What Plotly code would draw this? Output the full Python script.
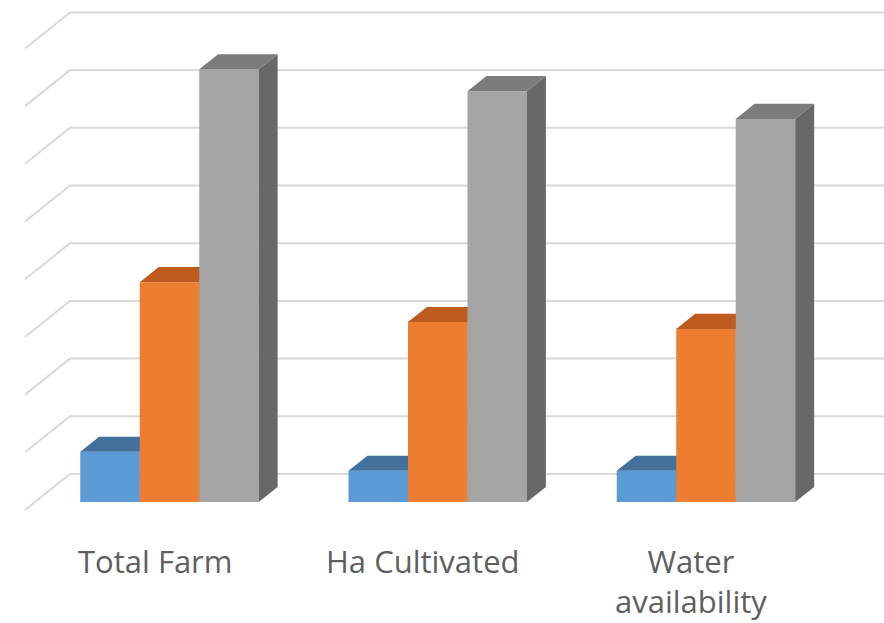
import plotly.graph_objects as go

# Data
categories = ["Total Farm", "Ha Cultivated", "Water<br>availability"]
series_a = [8.7, 5.4, 5.4]
series_b = [38.1, 31.2, 30.0]
series_c = [75.0, 71.2, 66.4]
grid_values = [0, 10, 20, 30, 40, 50, 60, 70, 80]

series = [series_a, series_b, series_c]
front_colors = ["#5B9BD5", "#ED7D31", "#A5A5A5"]
top_colors = ["#41719C", "#BF5B1E", "#7C7C7C"]
side_colors = ["#3A6894", "#AE521B", "#686868"]

# Oblique projection: depth z in [0 (floor front), 1 (back wall)]
KX = 0.1678   # x shift per unit depth (category units)
KY = 6.24     # y shift per unit depth (value units)
BAR_W = 0.2218
Z_FRONT = 0.222
Z_BACK = 0.642
X_RANGE = [-0.5946, 2.7009]
Y_RANGE = [-19.58, 88.39]
WALL_X = -0.5014


def proj(x, v, z):
    return x + z * KX, v + z * KY


fig = go.Figure()

# Floor/side-wall grid lines with the back-wall horizontals
gx, gy = [], []
for g in grid_values:
    p0 = proj(WALL_X, g, 0)
    p1 = proj(WALL_X, g, 1)
    gx += [p0[0], p1[0], X_RANGE[1] + 0.1, None]
    gy += [p0[1], p1[1], p1[1], None]
fig.add_trace(go.Scatter(x=gx, y=gy, mode="lines",
                         line=dict(color="#D9D9D9", width=2),
                         hoverinfo="skip", xaxis="x", yaxis="y"))

# 3D-looking bars: each series on its own overlaid axes so later series sit in front
for s, vals in enumerate(series):
    ax = str(s + 2)
    rel = -1.5 * BAR_W + s * BAR_W
    fig.add_trace(go.Bar(
        x=list(range(len(vals))), y=vals,
        base=[Z_FRONT * KY] * len(vals),
        offset=rel + Z_FRONT * KX, width=BAR_W,
        marker=dict(color=front_colors[s], line=dict(width=0)),
        xaxis="x" + ax, yaxis="y" + ax))
    tx, ty, sx, sy = [], [], [], []
    for i, v in enumerate(vals):
        x0 = i + rel
        x1 = x0 + BAR_W
        for p in [proj(x0, v, Z_FRONT), proj(x1, v, Z_FRONT),
                  proj(x1, v, Z_BACK), proj(x0, v, Z_BACK)]:
            tx.append(p[0]); ty.append(p[1])
        tx.append(None); ty.append(None)
        for p in [proj(x1, 0, Z_FRONT), proj(x1, v, Z_FRONT),
                  proj(x1, v, Z_BACK), proj(x1, 0, Z_BACK)]:
            sx.append(p[0]); sy.append(p[1])
        sx.append(None); sy.append(None)
    fig.add_trace(go.Scatter(x=sx, y=sy, mode="lines", fill="toself",
                             fillcolor=side_colors[s], line=dict(width=0),
                             hoverinfo="skip", xaxis="x" + ax, yaxis="y" + ax))
    fig.add_trace(go.Scatter(x=tx, y=ty, mode="lines", fill="toself",
                             fillcolor=top_colors[s], line=dict(width=0),
                             hoverinfo="skip", xaxis="x" + ax, yaxis="y" + ax))

axis_style = dict(visible=False, showgrid=False, zeroline=False, fixedrange=True)
layout = dict(
    width=884, height=623, autosize=False,
    margin=dict(l=0, r=0, t=0, b=0, pad=0),
    paper_bgcolor="white", plot_bgcolor="white",
    showlegend=False, hovermode=False,
    xaxis=dict(range=X_RANGE, **axis_style),
    yaxis=dict(range=Y_RANGE, **axis_style),
)
for n in (2, 3, 4):
    layout[f"xaxis{n}"] = dict(range=X_RANGE, overlaying="x", anchor=f"y{n}", **axis_style)
    layout[f"yaxis{n}"] = dict(range=Y_RANGE, overlaying="y", anchor=f"x{n}", **axis_style)
fig.update_layout(**layout)

# Category labels under the floor
for i, cat in enumerate(categories):
    fig.add_annotation(x=i, y=-4.85, xref="x", yref="y", text=cat,
                       showarrow=False, xanchor="center", yanchor="top",
                       xshift=-5,
                       font=dict(family="Open Sans", size=31, color="#5F5F5F"))

fig.write_html("out.html")
